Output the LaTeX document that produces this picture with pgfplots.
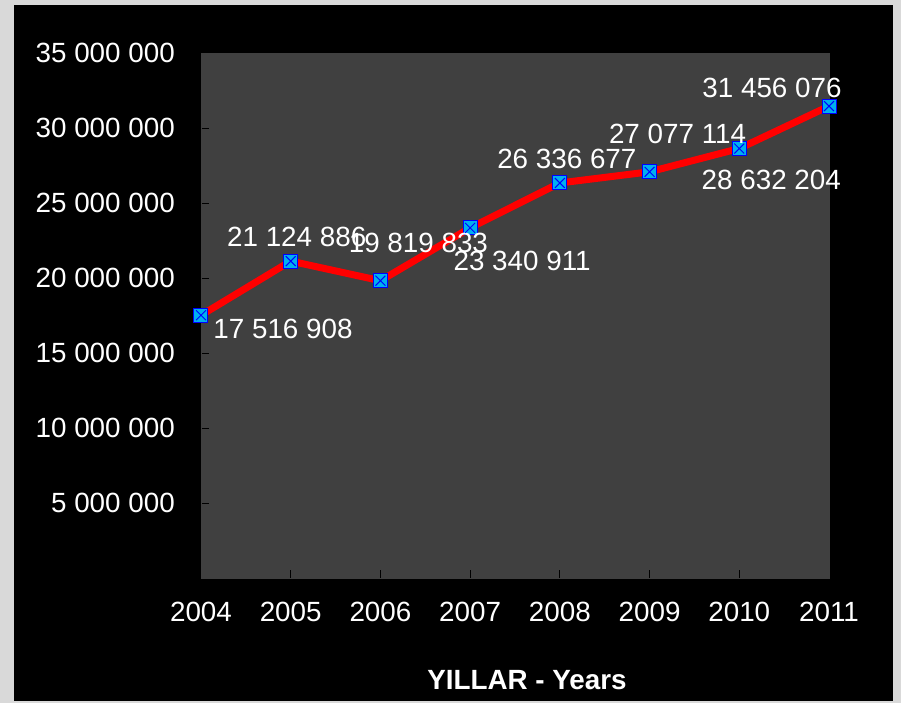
\documentclass[border=0pt]{standalone}
\usepackage{pgfplots}
\pgfplotsset{compat=1.18}
\usepackage{pgfplotstable}
\usepackage{fontspec}
\setmainfont{Liberation Sans}
\definecolor{outergray}{RGB}{217,217,217}
\definecolor{plotbg}{RGB}{64,64,64}
\definecolor{mkfill}{RGB}{0,176,240}
\pgfplotstableread[col sep=comma]{
year,val,lab,dx,dy
2004,17516908,17 516 908,82,-14
2005,21124886,21 124 886,6,24
2006,19819833,19 819 833,38,38
2007,23340911,23 340 911,52,-33
2008,26336677,26 336 677,7,24
2009,27077114,27 077 114,28,38
2010,28632204,28 632 204,32,-31
2011,31456076,31 456 076,-57,18
}\datatable
\newcommand{\bigf}{\fontsize{27.8}{33}\selectfont}
\begin{document}
\begin{tikzpicture}[x=1pt,y=1pt]
\fill[outergray] (-201,-125) rectangle (700,578);
\fill[black] (-187,-123) rectangle (692,573);
\begin{axis}[
  at={(0,0)}, anchor=south west,
  scale only axis, width=628pt, height=525pt,
  xmin=2004, xmax=2011, ymin=0, ymax=35000000,
  axis background/.style={fill=plotbg},
  axis line style={draw=black!75, line width=0.8pt},
  xtick={2004,2005,2006,2007,2008,2009,2010,2011},
  xticklabels={2004,2005,2006,2007,2008,2009,2010,2011},
  ytick={5000000,10000000,15000000,20000000,25000000,30000000,35000000},
  yticklabels={5 000 000,10 000 000,15 000 000,20 000 000,25 000 000,30 000 000,35 000 000},
  scaled y ticks=false,
  tick align=inside, tick pos=left, major tick length=8pt,
  tick style={black, line width=0.8pt},
  tick label style={font=\bigf, text=white, inner sep=0pt},
  yticklabel style={anchor=east, xshift=-26pt},
  xticklabel style={anchor=center, yshift=-34pt},
  xlabel={\textbf{YILLAR - Years}},
  xlabel style={at={(axis description cs:0.519,0)}, anchor=center, yshift=-102pt, font=\bigf, text=white, inner sep=0pt},
  clip=false,
]
\addplot[red, line width=7pt, line join=round] table[x=year,y=val]{\datatable};
\addplot[only marks, mark=square*, mark size=7pt, mark options={fill=mkfill, draw=blue, line width=1pt}] table[x=year,y=val]{\datatable};
\addplot[only marks, mark=x, mark size=7pt, mark options={draw=blue, line width=1pt},
  nodes near coords, point meta=explicit symbolic,
  visualization depends on={\thisrow{dx}\as\dx},
  visualization depends on={\thisrow{dy}\as\dy},
  nodes near coords style={anchor=center, xshift=\dx pt, yshift=\dy pt, text=white, font=\bigf, inner sep=0pt}]
  table[x=year,y=val,meta=lab]{\datatable};
\end{axis}
\end{tikzpicture}
\end{document}
